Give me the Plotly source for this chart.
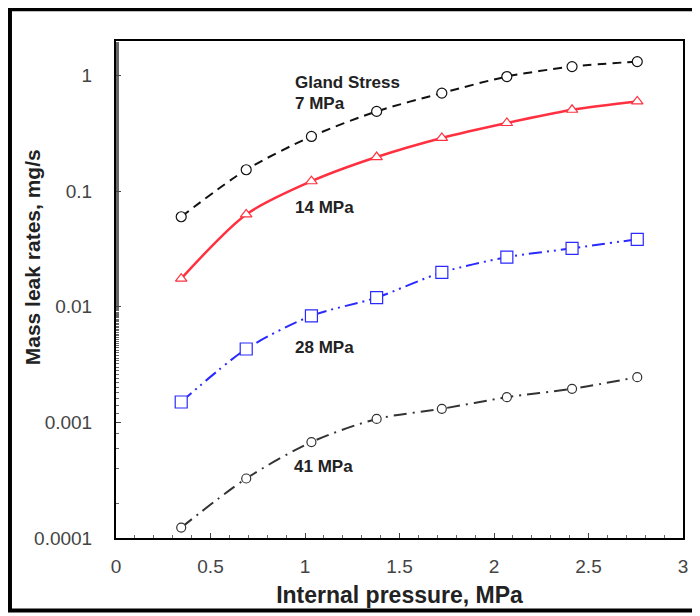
import plotly.graph_objects as go

pressure = [0.345, 0.689, 1.034, 1.379, 1.724, 2.068, 2.413, 2.758]
leak_7 = [0.060, 0.153, 0.297, 0.489, 0.704, 0.978, 1.193, 1.318]
leak_14 = [0.0175, 0.0628, 0.1217, 0.197, 0.288, 0.388, 0.505, 0.596]
leak_28 = [0.0015, 0.00431, 0.00835, 0.0120, 0.0198, 0.0268, 0.0320, 0.0383]
leak_41 = [0.000123, 0.000327, 0.000676, 0.00107, 0.00131, 0.00165, 0.00195, 0.00246]

x_ticks = [0, 0.5, 1, 1.5, 2, 2.5, 3]
x_tick_text = ["0", "0.5", "1", "1.5", "2", "2.5", "3"]
y_ticks = [0.0001, 0.001, 0.01, 0.1, 1]
y_tick_text = ["0.0001", "0.001", "0.01", "0.1", "1"]

FONT = "Liberation Sans, Arial, sans-serif"

fig = go.Figure()

def add(y, color, dash, symbol, size, width=2):
    fig.add_trace(go.Scatter(
        x=pressure, y=y, mode="lines+markers",
        line=dict(color=color, width=width, dash=dash, shape="spline", smoothing=0.8),
        marker=dict(symbol=symbol, size=size, color="white",
                    line=dict(color=color, width=1.2)),
        showlegend=False,
    ))

add(leak_7, "#111111", "9px,6px", "circle", 10)
add(leak_14, "#ff3040", "solid", "triangle-up", 10, 2.5)
add(leak_28, "#2a2aff", "13px,5px,2px,5px,2px,5px", "square", 12)
add(leak_41, "#333333", "13px,6px,2px,6px", "circle", 9)

ann_font = dict(family=FONT, size=17, color="#222222")
labels = [
    (0.935, 0.916, "<b>Gland Stress</b>"),
    (0.935, 0.874, "<b>7 MPa</b>"),
    (0.935, 0.665, "<b>14 MPa</b>"),
    (0.935, 0.383, "<b>28 MPa</b>"),
    (0.930, 0.144, "<b>41 MPa</b>"),
]
for xv, yp, t in labels:
    fig.add_annotation(x=xv, xref="x", y=yp, yref="paper", text=t, showarrow=False,
                       xanchor="left", yanchor="middle", font=ann_font)

# y axis title (placed as in the original, above plot centre)
fig.add_annotation(x=-0.148, xref="paper", y=0.565, yref="paper",
                   text="<b>Mass leak rates, mg/s</b>", textangle=-90,
                   showarrow=False, xanchor="center", yanchor="middle",
                   font=dict(family=FONT, size=21, color="#222"))

# outer black frame of the picture
fig.add_shape(type="rect", xref="paper", yref="paper",
              x0=-0.187, x1=1.06, y0=-0.146, y1=1.064,
              line=dict(color="black", width=4), fillcolor="rgba(0,0,0,0)")

fig.update_xaxes(
    range=[0, 3], tickvals=x_ticks, ticktext=x_tick_text,
    showline=True, linecolor="black", linewidth=2, mirror=True,
    ticks="inside", ticklen=5, tickcolor="#444",
    minor=dict(ticks="inside", ticklen=3, dtick=0.1, tickcolor="#666"),
    showgrid=False, zeroline=False, ticklabelstandoff=10,
    tickfont=dict(family=FONT, size=19, color="#444"),
    title=dict(text="<b>Internal pressure, MPa</b>",
               font=dict(family=FONT, size=23, color="#222"), standoff=11),
)
fig.update_yaxes(
    type="log", range=[-4, 0.298], tickvals=y_ticks, ticktext=y_tick_text,
    showline=True, linecolor="black", linewidth=2, mirror=True,
    ticks="inside", ticklen=5, tickcolor="#444",
    minor=dict(ticks="inside", ticklen=3, tickcolor="#666", showgrid=False),
    showgrid=False, zeroline=False, ticklabelstandoff=18,
    tickfont=dict(family=FONT, size=19, color="#444"),
)

fig.update_layout(
    width=692, height=608,
    margin=dict(l=108, r=12, t=33, b=76),
    paper_bgcolor="white", plot_bgcolor="white",
)

fig.write_html("out.html")
